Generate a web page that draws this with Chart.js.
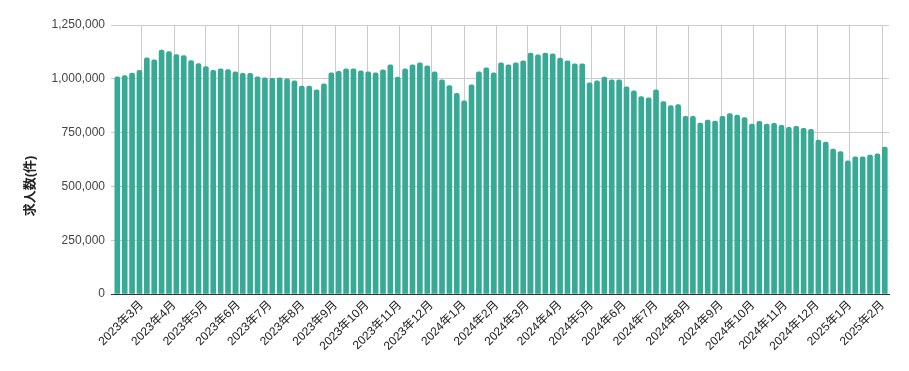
<!DOCTYPE html>
<html lang="ja">
<head>
  <meta charset="UTF-8" />
  <title>求人数</title>
  <script src="https://cdn.jsdelivr.net/npm/chart.js"></script>
  <style>
    html, body {
      margin: 0;
      padding: 0;
      background: #fff;
    }

    .chart-box {
      position: relative;
      width: 909px;
      height: 371px;
    }
  </style>
</head>
<body>
  <div class="chart-box">
    <canvas id="jobsChart"></canvas>
  </div>

  <script>
    // weekly data (week start, Monday)
    const weeks = [
      '2023-02-06', '2023-02-13', '2023-02-20', '2023-02-27',
      '2023-03-06', '2023-03-13', '2023-03-20', '2023-03-27',
      '2023-04-03', '2023-04-10', '2023-04-17', '2023-04-24',
      '2023-05-01', '2023-05-08', '2023-05-15', '2023-05-22', '2023-05-29',
      '2023-06-05', '2023-06-12', '2023-06-19', '2023-06-26',
      '2023-07-03', '2023-07-10', '2023-07-17', '2023-07-24', '2023-07-31',
      '2023-08-07', '2023-08-14', '2023-08-21', '2023-08-28',
      '2023-09-04', '2023-09-11', '2023-09-18', '2023-09-25',
      '2023-10-02', '2023-10-09', '2023-10-16', '2023-10-23', '2023-10-30',
      '2023-11-06', '2023-11-13', '2023-11-20', '2023-11-27',
      '2023-12-04', '2023-12-11', '2023-12-18', '2023-12-25',
      '2024-01-01', '2024-01-08', '2024-01-15', '2024-01-22', '2024-01-29',
      '2024-02-05', '2024-02-12', '2024-02-19', '2024-02-26',
      '2024-03-04', '2024-03-11', '2024-03-18', '2024-03-25',
      '2024-04-01', '2024-04-08', '2024-04-15', '2024-04-22', '2024-04-29',
      '2024-05-06', '2024-05-13', '2024-05-20', '2024-05-27',
      '2024-06-03', '2024-06-10', '2024-06-17', '2024-06-24',
      '2024-07-01', '2024-07-08', '2024-07-15', '2024-07-22', '2024-07-29',
      '2024-08-05', '2024-08-12', '2024-08-19', '2024-08-26',
      '2024-09-02', '2024-09-09', '2024-09-16', '2024-09-23', '2024-09-30',
      '2024-10-07', '2024-10-14', '2024-10-21', '2024-10-28',
      '2024-11-04', '2024-11-11', '2024-11-18', '2024-11-25',
      '2024-12-02', '2024-12-09', '2024-12-16', '2024-12-23', '2024-12-30',
      '2025-01-06', '2025-01-13', '2025-01-20', '2025-01-27',
      '2025-02-03'
    ];

    const jobCounts = [
      1009000, 1015000, 1026000, 1039000,
      1097000, 1088000, 1134000, 1127000,
      1113000, 1108000, 1085000, 1071000,
      1057000, 1039000, 1046000, 1043000, 1032000,
      1025000, 1025000, 1009000, 1005000,
      1002000, 1005000, 1000000, 990000, 966000,
      966000, 949000, 977000, 1028000,
      1035000, 1046000, 1046000, 1037000,
      1032000, 1028000, 1042000, 1065000, 1008000,
      1046000, 1065000, 1074000, 1060000,
      1032000, 995000, 968000, 932000,
      898000, 972000, 1032000, 1051000, 1028000,
      1074000, 1065000, 1074000, 1083000,
      1120000, 1111000, 1120000, 1116000,
      1096000, 1083000, 1069000, 1069000, 981000,
      991000, 1008000, 995000, 995000,
      963000, 944000, 917000, 912000,
      949000, 894000, 875000, 880000, 826000,
      826000, 794000, 808000, 803000,
      826000, 838000, 831000, 820000, 790000,
      802000, 790000, 793000, 784000,
      774000, 779000, 770000, 765000,
      715000, 706000, 674000, 662000, 619000,
      637000, 637000, 646000, 651000,
      683000
    ];

    const monthTicks = [
      '2023-03-01', '2023-04-01', '2023-05-01', '2023-06-01', '2023-07-01', '2023-08-01',
      '2023-09-01', '2023-10-01', '2023-11-01', '2023-12-01', '2024-01-01', '2024-02-01',
      '2024-03-01', '2024-04-01', '2024-05-01', '2024-06-01', '2024-07-01', '2024-08-01',
      '2024-09-01', '2024-10-01', '2024-11-01', '2024-12-01', '2025-01-01', '2025-02-01'
    ];

    const monthLabels = [
      '2023年3月', '2023年4月', '2023年5月', '2023年6月', '2023年7月', '2023年8月',
      '2023年9月', '2023年10月', '2023年11月', '2023年12月', '2024年1月', '2024年2月',
      '2024年3月', '2024年4月', '2024年5月', '2024年6月', '2024年7月', '2024年8月',
      '2024年9月', '2024年10月', '2024年11月', '2024年12月', '2025年1月', '2025年2月'
    ];

    const yTicks = [0, 250000, 500000, 750000, 1000000, 1250000];

    const FONT = '"Liberation Sans", Arial, "Noto Sans CJK JP", sans-serif';
    const DAY = 86400000;
    const start = Date.parse(weeks[0]);
    const dayOf = d => (Date.parse(d) - start) / DAY;

    // rotated y axis title, centred on the whole canvas like the original
    const yTitle = {
      id: 'yTitle',
      afterDraw(chart) {
        const c = chart.ctx;
        c.save();
        c.translate(30, 186);
        c.rotate(-Math.PI / 2);
        c.font = 'bold 13px ' + FONT;
        c.fillStyle = '#222';
        c.textAlign = 'center';
        c.textBaseline = 'middle';
        c.fillText('求人数(件)', 0, 0);
        c.restore();
      }
    };

    const ctx = document.getElementById('jobsChart').getContext('2d');

    new Chart(ctx, {
      type: 'bar',
      data: {
        datasets: [{
          label: '求人数',
          data: weeks.map((w, i) => ({ x: dayOf(w), y: jobCounts[i] })),
          backgroundColor: '#37aa95',
          barThickness: 5,
          borderRadius: 2,
          borderSkipped: 'start'
        }]
      },
      plugins: [yTitle],
      options: {
        responsive: true,
        maintainAspectRatio: false,
        animation: false,
        layout: {
          padding: { top: 25, right: 20, left: 0, bottom: 0 }
        },
        plugins: {
          legend: { display: false },
          tooltip: { enabled: false }
        },
        scales: {
          x: {
            type: 'linear',
            min: -6,
            max: 732,
            offset: false,
            grid: { color: '#cccccc', offset: false, drawTicks: false },
            border: { color: '#333333' },
            afterBuildTicks: scale => {
              scale.ticks = monthTicks.map(d => ({ value: dayOf(d) }));
            },
            afterFit: scale => { scale.height = 77; },
            ticks: {
              autoSkip: false,
              minRotation: 45,
              maxRotation: 45,
              padding: 4,
              color: '#222',
              font: { family: FONT, size: 12 },
              callback: (v, i) => monthLabels[i]
            }
          },
          y: {
            min: 0,
            max: 1250000,
            grid: { color: '#cccccc', drawTicks: false },
            border: { display: false },
            afterBuildTicks: scale => {
              scale.ticks = yTicks.map(v => ({ value: v }));
            },
            afterFit: scale => { scale.width = 111; },
            ticks: {
              padding: 6,
              color: '#444',
              font: { family: FONT, size: 12 },
              callback: v => v.toLocaleString('en-US')
            }
          }
        }
      }
    });
  </script>
</body>
</html>
